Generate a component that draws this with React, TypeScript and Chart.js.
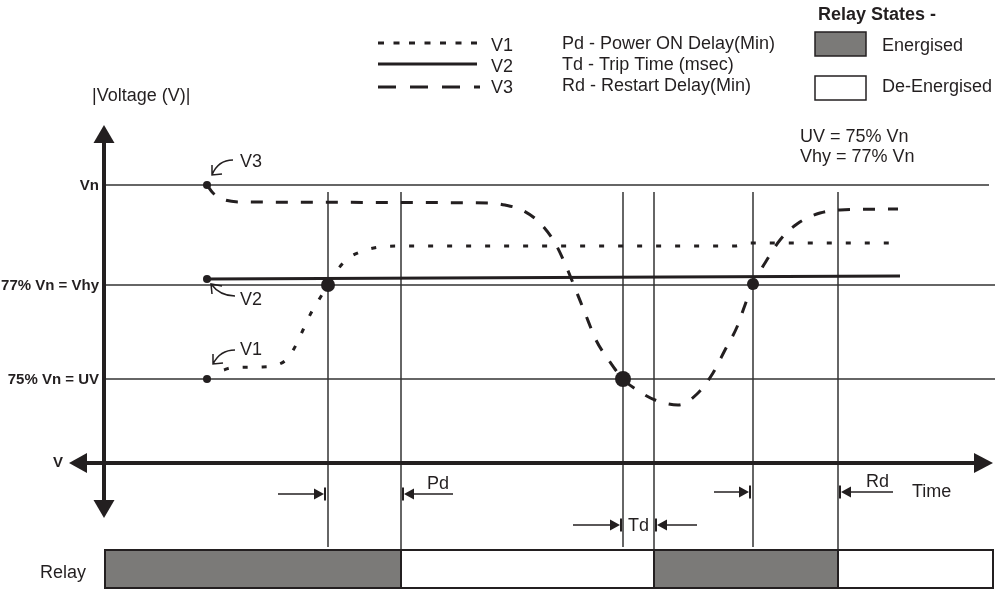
import React, { useEffect, useRef } from 'react';
import { Chart, registerables } from 'chart.js';

Chart.register(...registerables);

const FONT = '"Liberation Sans", Arial, Helvetica, sans-serif';
const INK = '#231f20';
const LINE = '#333333';
const GREY = '#7b7a78';

// Units: time counted from the vertical axis, voltage counted from the horizontal axis (schematic units)
const levelLabels = ['Vn', '77% Vn = Vhy', '75% Vn = UV', 'V'];
const levelValues = [278, 178, 84, 0];
const levelEnds = [885, 891, 891];

// V1 reaches Vhy, Pd end, V3 reaches UV, Td end, V3 reaches Vhy, Rd end
const eventTimes = [224, 297, 519, 550, 649, 734];
const eventReachesRelay = [false, true, false, true, false, true];

const v1Time = [120, 126, 156, 173, 184, 192, 199, 207, 216, 224, 232, 242, 256, 276, 297, 631, 644, 796];
const v1Volt = [93, 95, 96, 98, 105, 118, 133, 150, 165, 178, 191, 203, 211, 216, 217, 217, 220, 220];

const v2Time = [103, 796];
const v2Volt = [184, 187];

const v3Time = [103, 109, 121, 141, 386, 401, 418, 436, 451, 462, 471, 481, 492, 506, 519, 536, 551, 574, 593, 609, 621, 633, 641, 649, 661, 676, 693, 716, 736, 794];
const v3Volt = [278, 270, 263, 261, 260, 258, 253, 240, 220, 197, 175, 150, 123, 101, 84, 71, 63, 58, 69, 90, 113, 136, 158, 179, 200, 223, 239, 250, 253, 254];

const markerTime = [103, 103, 103, 224, 519, 649];
const markerVolt = [278, 184, 84, 178, 84, 179];
const markerSize = [4, 4, 4, 7, 8, 6];

const relayStart = [1, 297, 550, 734];
const relayEnd = [297, 550, 734, 889];
const relayOn = [true, false, true, false];

const legendSeries = ['V1', 'V2', 'V3'];
const legendDelays = ['Pd - Power ON Delay(Min)', 'Td - Trip Time (msec)', 'Rd - Restart Delay(Min)'];
const legendStates = ['Energised', 'De-Energised'];

export default function App() {
  const ref = useRef<HTMLCanvasElement>(null);

  useEffect(() => {
    const canvas = ref.current!;
    const pts = (t: number[], v: number[]) => t.map((x, i) => ({ x, y: v[i] }));

    const tri = (ctx: CanvasRenderingContext2D, a: number[], b: number[], c: number[]) => {
      ctx.beginPath();
      ctx.moveTo(a[0], a[1]);
      ctx.lineTo(b[0], b[1]);
      ctx.lineTo(c[0], c[1]);
      ctx.closePath();
      ctx.fill();
    };

    const diagram = {
      id: 'diagram',
      beforeDatasetsDraw(chart: any) {
        const ctx: CanvasRenderingContext2D = chart.ctx;
        const xs = chart.scales.x;
        const ys = chart.scales.y;
        const X = (t: number) => xs.getPixelForValue(t);
        const Y = (v: number) => ys.getPixelForValue(v);
        ctx.save();
        ctx.strokeStyle = LINE;
        ctx.fillStyle = INK;
        ctx.lineWidth = 1.5;
        // level lines
        for (let i = 0; i < 3; i++) {
          ctx.beginPath();
          ctx.moveTo(X(0), Y(levelValues[i]));
          ctx.lineTo(X(levelEnds[i]), Y(levelValues[i]));
          ctx.stroke();
        }
        // event verticals
        eventTimes.forEach((t, i) => {
          ctx.beginPath();
          ctx.moveTo(X(t), Y(271));
          ctx.lineTo(X(t), Y(eventReachesRelay[i] ? -87 : -84));
          ctx.stroke();
        });
        // relay bar
        relayStart.forEach((s, i) => {
          const x0 = X(s), x1 = X(relayEnd[i]);
          const y0 = Y(-87), y1 = Y(-125);
          ctx.fillStyle = relayOn[i] ? GREY : '#ffffff';
          ctx.fillRect(x0, y0, x1 - x0, y1 - y0);
          ctx.strokeStyle = INK;
          ctx.lineWidth = 2;
          ctx.strokeRect(x0, y0, x1 - x0, y1 - y0);
        });
        // axes
        ctx.strokeStyle = INK;
        ctx.fillStyle = INK;
        ctx.lineWidth = 4;
        ctx.beginPath();
        ctx.moveTo(X(0), Y(322));
        ctx.lineTo(X(0), Y(-39));
        ctx.moveTo(X(-19), Y(0));
        ctx.lineTo(X(872), Y(0));
        ctx.stroke();
        const ax = X(0), ay = Y(0);
        tri(ctx, [ax, Y(338)], [ax - 10.5, Y(320)], [ax + 10.5, Y(320)]);
        tri(ctx, [ax, Y(-55)], [ax - 10.5, Y(-37)], [ax + 10.5, Y(-37)]);
        tri(ctx, [X(-35), ay], [X(-17), ay - 10], [X(-17), ay + 10]);
        tri(ctx, [X(889), ay], [X(870), ay - 10], [X(870), ay + 10]);
        ctx.restore();
      },
      afterDatasetsDraw(chart: any) {
        const ctx: CanvasRenderingContext2D = chart.ctx;
        const xs = chart.scales.x;
        const ys = chart.scales.y;
        const X = (t: number) => xs.getPixelForValue(t);
        const Y = (v: number) => ys.getPixelForValue(v);
        ctx.save();
        ctx.fillStyle = INK;
        ctx.strokeStyle = INK;
        ctx.textBaseline = 'middle';

        // level labels
        ctx.font = `bold 15px ${FONT}`;
        ctx.textAlign = 'right';
        for (let i = 0; i < 3; i++) ctx.fillText(levelLabels[i], X(-5), Y(levelValues[i]) + 1);
        ctx.fillText(levelLabels[3], X(-41), Y(0));

        ctx.font = `18px ${FONT}`;
        ctx.textAlign = 'left';
        ctx.fillText('|Voltage (V)|', 92, 96);
        ctx.fillText('UV = 75% Vn', 800, 137);
        ctx.fillText('Vhy = 77% Vn', 800, 157);
        ctx.fillText('Time', 912, 492);
        ctx.fillText('Relay', 40, 573);

        // series tags with curved arrows
        const tags = [
          { name: 'V3', ty: 162, from: [233, 160], ctrl: [218, 160], tip: [212, 175], a1: [212, 165], a2: [222, 174] },
          { name: 'V2', ty: 300, from: [235, 296], ctrl: [220, 296], tip: [211, 284], a1: [212, 294], a2: [222, 286] },
          { name: 'V1', ty: 350, from: [235, 350], ctrl: [220, 350], tip: [213, 364], a1: [213, 354], a2: [223, 363] },
        ];
        ctx.lineWidth = 1.5;
        tags.forEach((g) => {
          ctx.fillText(g.name, 240, g.ty);
          ctx.beginPath();
          ctx.moveTo(g.from[0], g.from[1]);
          ctx.quadraticCurveTo(g.ctrl[0], g.ctrl[1], g.tip[0], g.tip[1]);
          ctx.moveTo(g.a1[0], g.a1[1]);
          ctx.lineTo(g.tip[0], g.tip[1]);
          ctx.lineTo(g.a2[0], g.a2[1]);
          ctx.stroke();
        });

        // dimension arrows
        const dim = (tail: number, tip: number, y: number) => {
          const dir = tip > tail ? 1 : -1;
          ctx.lineWidth = 1.5;
          ctx.beginPath();
          ctx.moveTo(tail, y);
          ctx.lineTo(tip - dir * 6, y);
          ctx.stroke();
          tri(ctx, [tip, y], [tip - dir * 10, y - 5.5], [tip - dir * 10, y + 5.5]);
          ctx.fillRect(dir > 0 ? tip : tip - 2, y - 6.5, 2, 13);
        };
        dim(278, 324, 494);
        dim(453, 404, 494);
        dim(573, 620, 525);
        dim(697, 657, 525);
        dim(714, 749, 492);
        dim(893, 841, 492);
        ctx.fillText('Pd', 427, 484);
        ctx.fillText('Td', 628, 526);
        ctx.fillText('Rd', 866, 482);

        // legend
        ctx.lineWidth = 3;
        ctx.setLineDash([6, 9.5]);
        ctx.beginPath(); ctx.moveTo(378, 43); ctx.lineTo(480, 43); ctx.stroke();
        ctx.setLineDash([]);
        ctx.beginPath(); ctx.moveTo(378, 64); ctx.lineTo(477, 64); ctx.stroke();
        ctx.setLineDash([18, 14]);
        ctx.beginPath(); ctx.moveTo(378, 87); ctx.lineTo(480, 87); ctx.stroke();
        ctx.setLineDash([]);
        legendSeries.forEach((s, i) => ctx.fillText(s, 491, 46 + i * 21));
        legendDelays.forEach((s, i) => ctx.fillText(s, 562, 44 + i * 21));
        legendStates.forEach((s, i) => ctx.fillText(s, 882, 46 + i * 41));
        ctx.font = `bold 18px ${FONT}`;
        ctx.fillText('Relay States -', 818, 15);
        ctx.lineWidth = 1.5;
        ctx.fillStyle = GREY;
        ctx.fillRect(815, 32, 51, 24);
        ctx.strokeRect(815, 32, 51, 24);
        ctx.fillStyle = '#ffffff';
        ctx.fillRect(815, 76, 51, 24);
        ctx.strokeRect(815, 76, 51, 24);
        ctx.restore();
      },
    };

    const chart = new Chart(canvas, {
      type: 'line',
      data: {
        datasets: [
          { label: 'V1', data: pts(v1Time, v1Volt), borderColor: INK, borderWidth: 3, borderDash: [5, 14], pointRadius: 0, cubicInterpolationMode: 'monotone', fill: false },
          { label: 'V2', data: pts(v2Time, v2Volt), borderColor: INK, borderWidth: 3, pointRadius: 0, fill: false },
          { label: 'V3', data: pts(v3Time, v3Volt), borderColor: INK, borderWidth: 3, borderDash: [12, 13], pointRadius: 0, cubicInterpolationMode: 'monotone', fill: false },
          { label: 'markers', data: pts(markerTime, markerVolt), showLine: false, pointRadius: markerSize, pointBackgroundColor: INK, pointBorderWidth: 0, borderColor: INK },
        ],
      },
      options: {
        animation: false,
        responsive: false,
        devicePixelRatio: 1,
        events: [],
        layout: { padding: 0, autoPadding: false },
        plugins: { legend: { display: false }, tooltip: { enabled: false } },
        scales: {
          x: { type: 'linear', display: false, min: -104, max: 898 },
          y: { type: 'linear', display: false, min: -127, max: 463 },
        },
      },
      plugins: [diagram],
    } as any);
    return () => chart.destroy();
  }, []);

  return (
    <div style={{ position: 'fixed', left: 0, top: 0, width: 1002, height: 590, background: '#ffffff' }}>
      <canvas ref={ref} width={1002} height={590} style={{ width: 1002, height: 590, display: 'block' }} />
    </div>
  );
}
